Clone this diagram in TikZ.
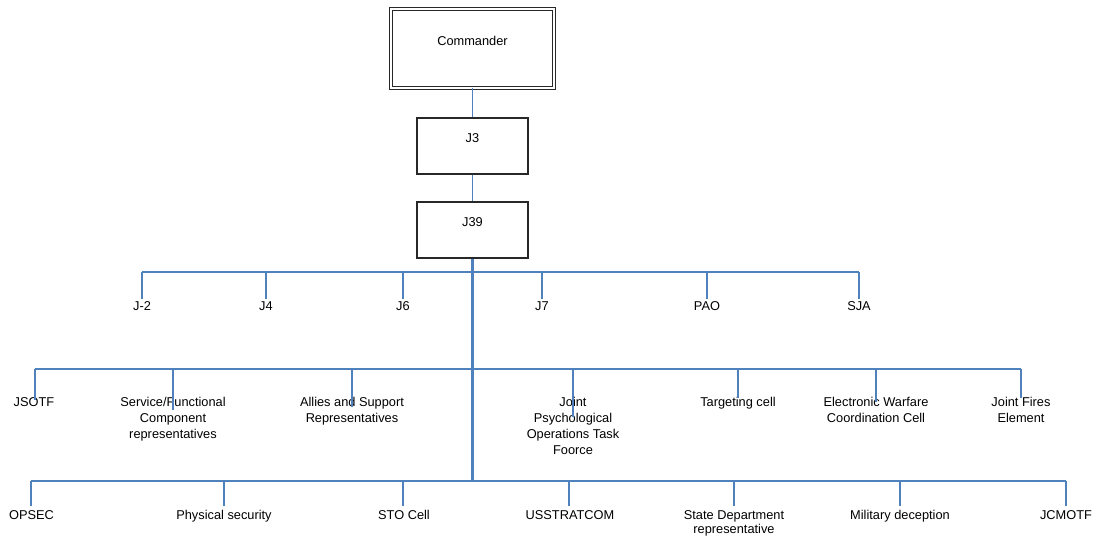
\documentclass[tikz,border=0pt]{standalone}
\usepackage{fontspec}
\setmainfont{Liberation Sans}
\usetikzlibrary{calc}
\definecolor{linkblue}{RGB}{79,129,189}
\definecolor{boxline}{RGB}{40,40,40}
\begin{document}
\begin{tikzpicture}[x=1bp,y=-1bp,
  every node/.style={font=\fontsize{12.8bp}{16bp}\selectfont},
  unit/.style={draw=boxline, line width=1.1bp, minimum width=111bp, minimum height=56bp,
    inner sep=0pt, text height=9bp, text depth=16bp},
  cmdbox/.style={draw=boxline, double, double distance=2bp, line width=1bp,
    minimum width=163bp, minimum height=79bp, inner sep=0pt, text height=9bp, text depth=15bp},
  lbl/.style={anchor=north, inner sep=0pt, align=center},
  link/.style={draw=linkblue, line width=1.2bp},
  bus/.style={draw=linkblue, line width=1.6bp},
  trunk/.style={draw=linkblue, line width=2.2bp}]
\useasboundingbox (0,0) rectangle (1094,536);

% chain of command
\node[cmdbox] (cmd) at (472.5,48.5) {Commander};
\node[unit] (j3) at (472.5,146) {J3};
\node[unit] (j39) at (472.5,230) {J39};
\draw[link] (cmd.south) -- (j3.north);
\draw[link] (j3.south) -- (j39.north);
\coordinate (tb) at (472.5,481);
\draw[trunk] (j39.south) -- (tb);

% first tier: staff directorates
\foreach \n/\x/\t in {a1/142/J-2, a2/266/J4, a3/403/J6, a4/542/J7, a5/707/PAO, a6/859/SJA}{
  \coordinate (b\n) at (\x,272);
  \node[lbl] (\n) at (\x,301) {\t};
  \draw[link] (b\n) -- ($(b\n |- \n.north)+(0,-2)$);
}
\draw[bus] (ba1) -- (ba6);

% second tier: cells and representatives
\node[lbl] (c1) at (34,397.5) {JSOTF};
\node[lbl] (c2) at (173,397.5) {Service/Functional\\Component\\representatives};
\node[lbl] (c3) at (352,397.5) {Allies and Support\\Representatives};
\node[lbl] (c4) at (573,397.5) {Joint\\Psychological\\Operations Task\\Foorce};
\node[lbl] (c5) at (738,397.5) {Targeting cell};
\node[lbl] (c6) at (876,397.5) {Electronic Warfare\\Coordination Cell};
\node[lbl] (c7) at (1021,397.5) {Joint Fires\\Element};
\foreach \n/\x/\d in {c1/35/2.5, c2/173/12.5, c3/352/9.5, c4/573/19.5, c5/738/0, c6/876/4.5, c7/1021/0.5}{
  \coordinate (b\n) at (\x,369);
  \draw[link] (b\n) -- ($(b\n |- \n.north)+(0,\d)$);
}
\draw[bus] (bc1) -- (bc7);

% third tier: supporting elements
\node[lbl] (d1) at (31.5,510.5) {OPSEC};
\node[lbl] (d2) at (224,510.5) {Physical security};
\node[lbl] (d3) at (404,510.5) {STO Cell};
\node[lbl] (d4) at (570,510.5) {USSTRATCOM};
\node[lbl] (d5) at (734,510.5) {State Department\\[-2bp]representative};
\node[lbl] (d6) at (900,510.5) {Military deception};
\node[lbl] (d7) at (1066,510.5) {JCMOTF};
\foreach \n/\x in {d1/31, d2/224, d3/403, d4/569, d5/734, d6/900, d7/1066}{
  \coordinate (b\n) at (\x,481);
  \draw[link] (b\n) -- ($(b\n |- \n.north)+(0,-4.5)$);
}
\draw[bus] (bd1) -- (bd7);
\end{tikzpicture}
\end{document}
